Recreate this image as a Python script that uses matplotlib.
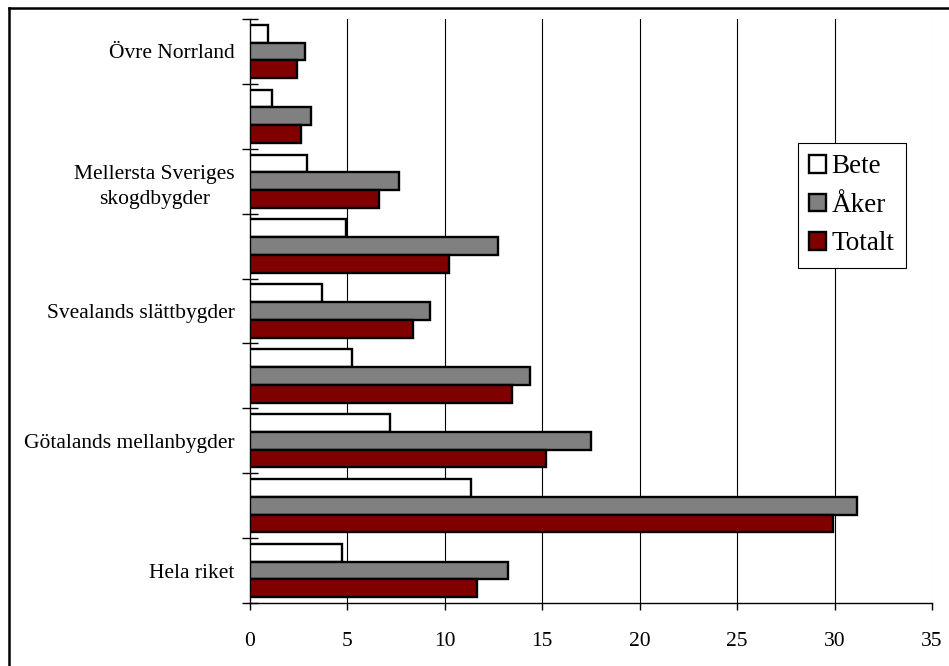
import matplotlib
matplotlib.use("Agg")
import matplotlib.pyplot as plt
import numpy as np
from matplotlib.lines import Line2D
from matplotlib.patches import Patch

plt.rcParams['font.family'] = ['Liberation Serif', 'DejaVu Serif']

# Regions, top to bottom; only every other region carries a visible label
region_labels = [
    "Övre Norrland",
    "",
    "Mellersta Sveriges\nskogdbygder",
    "",
    "Svealands slättbygder",
    "",
    "Götalands mellanbygder",
    "",
    "Hela riket",
]

series_names = ["Bete", "Åker", "Totalt"]
bete = [0.93, 1.15, 2.93, 4.93, 3.71, 5.22, 7.21, 11.32, 4.74]
aker = [2.82, 3.12, 7.64, 12.72, 9.25, 14.35, 17.51, 31.13, 13.24]
totalt = [2.43, 2.62, 6.64, 10.22, 8.36, 13.45, 15.19, 29.91, 11.64]
x_ticks = [0, 5, 10, 15, 20, 25, 30, 35]

colors = ["#ffffff", "#808080", "#800000"]

W, H = 949, 666
fig = plt.figure(figsize=(W / 100, H / 100), dpi=100)
ax = fig.add_axes([250 / W, 1 - 603 / H, (932 - 250) / W, (603 - 19) / H])

n = len(region_labels)
pos = np.arange(n)
bar_h = 0.274
offsets = [-bar_h, 0.0, bar_h]

for vals, off, col, name in zip([bete, aker, totalt], offsets, colors, series_names):
    ax.barh(pos + off, vals, height=bar_h, color=col, edgecolor="black",
            linewidth=1.7, label=name, zorder=3)

ax.set_xlim(0, 35)
ax.set_ylim(n - 0.5, -0.5)

# vertical gridlines
for xv in x_ticks[1:-1]:
    ax.axvline(xv, color="black", linewidth=0.8, zorder=1)
ax.axvline(x_ticks[-1], color="#c8c8c8", linewidth=0.8, zorder=1)

for side in ["top", "right"]:
    ax.spines[side].set_visible(False)
ax.spines["left"].set_linewidth(1.0)
ax.spines["bottom"].set_linewidth(1.0)

ax.set_xticks(x_ticks)
ax.set_xticklabels([str(v) for v in x_ticks], fontsize=15.5)
ax.tick_params(axis="x", direction="out", length=5, width=1.0, pad=16)

# category boundaries as major ticks, labels centred on each group
ax.set_yticks(np.arange(n + 1) - 0.5)
ax.set_yticklabels([])
ax.tick_params(axis="y", which="major", direction="inout", length=12, width=1.0)
ax.set_yticks(pos, minor=True)
ax.set_yticklabels(region_labels, minor=True, fontsize=15.5,
                   multialignment="center", linespacing=1.45)
ax.tick_params(axis="y", which="minor", length=0, pad=11)

handles = [Patch(facecolor=c, edgecolor="black", linewidth=1.7) for c in colors]
leg = ax.legend(handles, series_names, loc="upper left",
                bbox_to_anchor=((798 - 250) / (932 - 250), 1 - (143 - 19) / (603 - 19)),
                fontsize=19.5, frameon=True, fancybox=False, framealpha=1,
                edgecolor="black", handlelength=0.62, handleheight=0.62,
                handletextpad=0.2, labelspacing=0.5, borderpad=0.42,
                borderaxespad=0)
leg.get_frame().set_linewidth(0.8)

# figure border along the top and left
fig.add_artist(Line2D([8.5 / W, 1], [1 - 7.5 / H, 1 - 7.5 / H], color="black",
                      linewidth=1.8, transform=fig.transFigure))
fig.add_artist(Line2D([9 / W, 9 / W], [0, 1 - 7.5 / H], color="black",
                      linewidth=1.8, transform=fig.transFigure))

fig.savefig("out.png", dpi=100)
